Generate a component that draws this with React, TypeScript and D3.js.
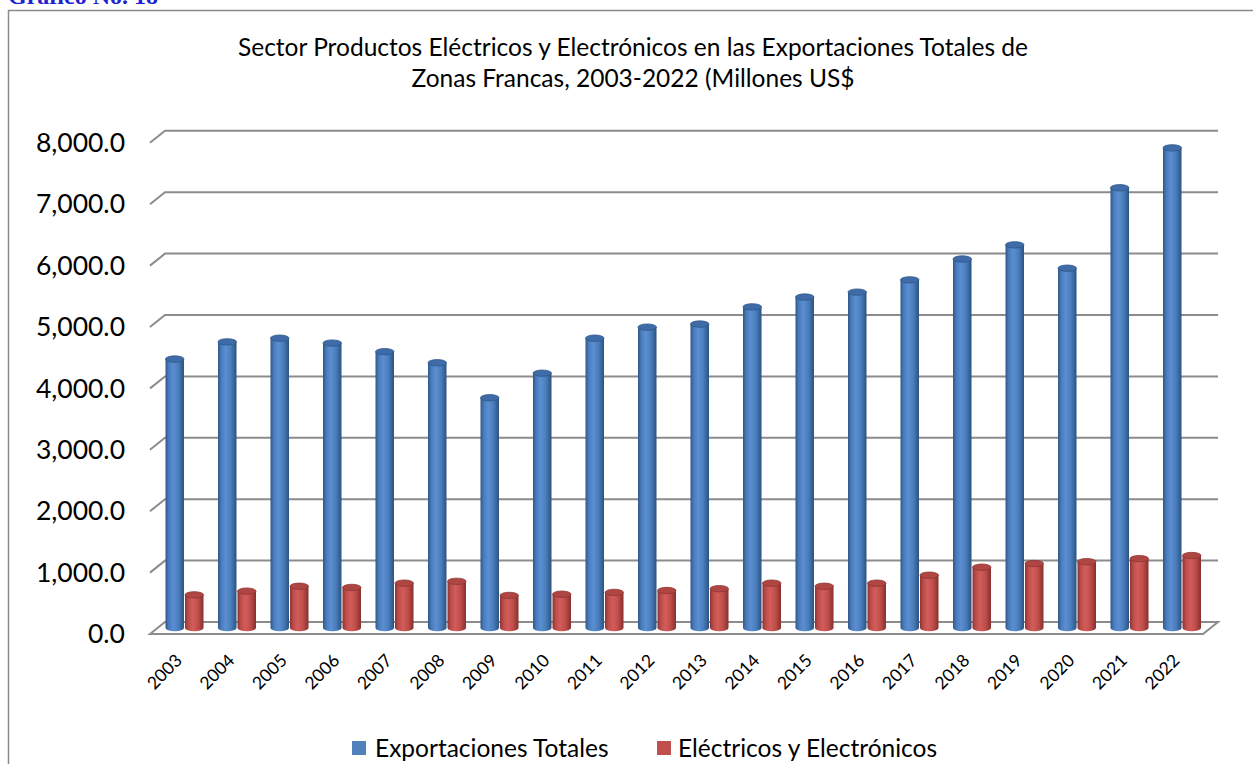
import React from "react";
import * as d3 from "d3";

const years = ["2003","2004","2005","2006","2007","2008","2009","2010","2011","2012","2013","2014","2015","2016","2017","2018","2019","2020","2021","2022"];
const totales = [4380,4660,4720,4640,4500,4320,3750,4150,4720,4900,4950,5230,5390,5470,5670,6010,6240,5860,7170,7820];
const electricos = [540,600,680,660,730,760,530,550,580,610,640,730,680,730,860,990,1050,1080,1130,1180];
const yTicks = [0,1000,2000,3000,4000,5000,6000,7000,8000];
const seriesNames = ["Exportaciones Totales","Eléctricos y Electrónicos"];
const titleLines = ["Sector Productos Eléctricos y Electrónicos en las Exportaciones Totales de","Zonas Francas, 2003-2022 (Millones US$"];

const FONT = "Lato, 'Open Sans', sans-serif";
const W = 1253, H = 764;
const DX = 15, DY = -12;
const FRONT_LEFT = 150, FRONT_RIGHT = 1203;

export default function App() {
  const yFront = d3.scaleLinear().domain([0, 8000]).range([634, 142.8]);
  const yBar = (v: number) => yFront(v) + DY / 2;
  const x = d3.scaleBand<string>().domain(years).range([151.5, 1215]).paddingInner(0.257).paddingOuter(0.257);
  const xs = d3.scaleBand<string>().domain(["t","e"]).range([0, x.bandwidth()]).padding(0);
  const bw = xs.bandwidth();
  const ry = 3.2;
  const fmt = d3.format(",.1f");

  const cyl = (key: string, cx0: number, v: number, grad: string, top: string, topStroke: string) => {
    const yt = yBar(v);
    const yb = yBar(0);
    const w = bw - 1;
    const x0 = cx0 + 0.5;
    const cx = x0 + w / 2;
    const path = `M${x0},${yt} L${x0},${yb} A${w/2},${ry} 0 0 0 ${x0 + w},${yb} L${x0 + w},${yt} Z`;
    return (
      <g key={key}>
        <path d={path} fill={`url(#${grad})`} />
        <ellipse cx={cx} cy={yt} rx={w / 2} ry={ry} fill={top} stroke={topStroke} strokeWidth={0.8} />
      </g>
    );
  };

  return (
    <svg width={W} height={H} style={{ position: "absolute", left: 0, top: 0, display: "block", background: "#fff" }}>
      <defs>
        <linearGradient id="gBlue" x1="0" x2="1" y1="0" y2="0">
          <stop offset="0" stopColor="#2d5789" />
          <stop offset="0.18" stopColor="#4a7cbc" />
          <stop offset="0.42" stopColor="#5b8fd2" />
          <stop offset="0.7" stopColor="#4a7dbb" />
          <stop offset="1" stopColor="#2b5281" />
        </linearGradient>
        <linearGradient id="gRed" x1="0" x2="1" y1="0" y2="0">
          <stop offset="0" stopColor="#8c3431" />
          <stop offset="0.18" stopColor="#bd4d4a" />
          <stop offset="0.42" stopColor="#d25d5a" />
          <stop offset="0.7" stopColor="#bf4e4b" />
          <stop offset="1" stopColor="#87302d" />
        </linearGradient>
      </defs>

      <text x={8} y={4} fontFamily="'Liberation Serif', 'Times New Roman', serif" fontWeight="bold" fontSize={24} fill="#1f1fd6">Gráfico No. 18</text>

      <path d={`M8.5,${H} L8.5,10.5 L${W},10.5`} fill="none" stroke="#8a8a8a" strokeWidth={1.5} />

      {titleLines.map((t, i) => (
        <text key={i} x={633} y={56 + i * 31} textAnchor="middle" fontFamily={FONT} fontSize={24.5} fill="#000">{t}</text>
      ))}

      {/* floor */}
      <path d={`M${FRONT_LEFT},${yFront(0)} L${FRONT_LEFT + DX},${yFront(0) + DY} L${FRONT_RIGHT + DX},${yFront(0) + DY} L${FRONT_RIGHT},${yFront(0)} Z`} fill="#fff" stroke="#8c8c8c" strokeWidth={2} />

      {/* gridlines */}
      {yTicks.filter(v => v > 0).map(v => (
        <path key={v} d={`M${FRONT_LEFT},${yFront(v)} L${FRONT_LEFT + DX},${yFront(v) + DY} L${FRONT_RIGHT + DX},${yFront(v) + DY}`} fill="none" stroke="#8c8c8c" strokeWidth={2} />
      ))}

      {yTicks.map(v => (
        <text key={v} x={125} y={yFront(v)} dy="0.35em" textAnchor="end" fontFamily={FONT} fontSize={26.5} fill="#000">{fmt(v)}</text>
      ))}

      {years.map((yr, i) => {
        const bx = x(yr)!;
        return (
          <g key={yr}>
            {cyl(yr + "t", bx + xs("t")!, totales[i], "gBlue", "#3f6ca8", "#2f5888")}
            {cyl(yr + "e", bx + xs("e")!, electricos[i], "gRed", "#b04643", "#8e3633")}
          </g>
        );
      })}

      {years.map(yr => {
        const cx = x(yr)! + x.bandwidth() / 2 - 10;
        const ty = 653;
        return (
          <text key={yr} transform={`translate(${cx},${ty}) rotate(-45)`} textAnchor="end" dy="0.7em" fontFamily={FONT} fontSize={17.5} fill="#000">{yr}</text>
        );
      })}

      {/* legend */}
      <rect x={352} y={741} width={14} height={14} fill="#4f81bd" />
      <text x={375} y={748} dy="0.35em" fontFamily={FONT} fontSize={24.5} fill="#000">{seriesNames[0]}</text>
      <rect x={657} y={741} width={14} height={14} fill="#c0504d" />
      <text x={678} y={748} dy="0.35em" fontFamily={FONT} fontSize={24.5} fill="#000">{seriesNames[1]}</text>
    </svg>
  );
}
